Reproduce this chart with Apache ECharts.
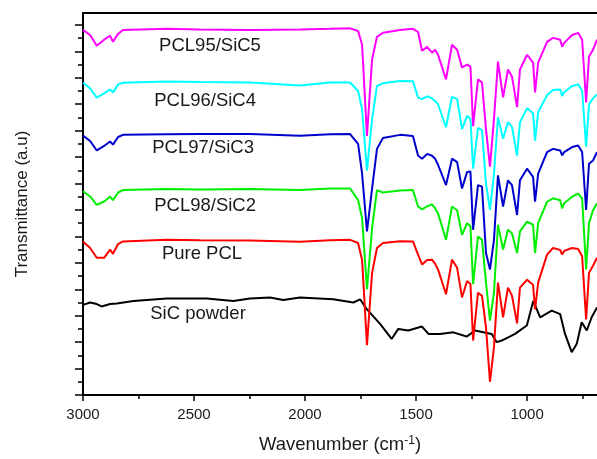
<!DOCTYPE html>
<html>
<head>
<meta charset="utf-8">
<script src="https://cdn.jsdelivr.net/npm/echarts@6/dist/echarts.min.js"></script>
<style>
  html, body { margin: 0; padding: 0; background: #fff; }
  #chart { width: 597px; height: 459px; }
</style>
</head>
<body>
<div id="chart"></div>
<script>
// wavenumbers (cm-1) read for the PCL based spectra
const wnPCL = [3000, 2968, 2938, 2905, 2878, 2865, 2842, 2820, 2623, 2473, 2248, 2023, 1887, 1797, 1761, 1743,
  1721, 1698, 1676, 1649, 1572, 1514, 1491, 1473, 1450, 1428, 1414, 1401, 1365, 1338, 1315, 1293, 1270, 1255,
  1243, 1221, 1203, 1185, 1167, 1149, 1131, 1108, 1086, 1068, 1045, 1032, 1000, 973, 964, 950, 910, 883, 851,
  842, 833, 797, 770, 752, 734, 721, 703, 685];

const pcl95 = [138.1, 136.2, 132.1, 134.4, 135.9, 133.6, 136.6, 138.1, 138.5, 138.3, 138.1, 138.3, 138.5, 138.7, 137.7, 132.5,
  98.0, 126.9, 135.5, 137.0, 138.1, 138.5, 137.4, 130.2, 131.7, 129.5, 130.6, 128.7, 119.4, 132.5, 130.6, 123.9, 125.0, 124.2,
  101.7, 119.4, 118.2, 100.6, 86.4, 104.4, 126.1, 112.6, 123.1, 120.5, 108.9, 123.1, 128.7, 125.7, 114.5, 125.7, 133.6, 135.1, 134.4,
  131.7, 133.2, 136.2, 137.0, 134.4, 110.7, 128.0, 130.6, 134.4];

const pcl96 = [118.1, 116.0, 112.5, 114.1, 115.6, 114.4, 117.5, 118.1, 118.6, 118.4, 118.2, 117.1, 118.2, 118.2, 115.0, 108.1,
  84.9, 104.4, 116.9, 117.9, 118.8, 118.7, 112.5, 111.9, 113.0, 112.2, 111.2, 110.0, 101.3, 112.8, 111.9, 100.6, 105.6, 104.4,
  85.6, 101.0, 100.2, 80.0, 70.0, 83.7, 105.0, 96.9, 103.2, 101.4, 90.6, 103.1, 108.5, 106.6, 96.2, 107.0, 113.4, 115.4, 115.6,
  113.1, 114.5, 116.9, 117.5, 115.2, 93.9, 110.0, 112.2, 113.7];

const pcl97 = [98.1, 96.1, 92.5, 94.2, 95.9, 94.7, 97.6, 98.4, 98.6, 98.7, 98.7, 98.1, 98.6, 98.7, 95.0, 83.7,
  61.9, 78.1, 93.1, 97.2, 98.4, 98.0, 90.6, 89.4, 91.2, 90.5, 89.4, 87.1, 79.4, 89.4, 88.1, 78.1, 84.4, 84.5,
  62.5, 79.4, 78.8, 53.7, 47.5, 58.7, 83.1, 71.3, 81.2, 79.4, 68.1, 81.2, 85.6, 82.5, 73.1, 83.7, 91.9, 93.1, 92.5,
  90.6, 91.9, 93.8, 94.4, 91.9, 70.0, 87.5, 88.7, 91.9];

const pcl98 = [77.1, 75.1, 71.9, 73.2, 75.0, 73.7, 76.6, 77.5, 77.9, 77.7, 77.9, 77.5, 78.1, 78.1, 73.7, 66.9,
  40.0, 63.1, 77.5, 76.6, 77.4, 77.5, 71.3, 70.2, 71.4, 72.1, 70.6, 68.7, 58.7, 71.3, 69.9, 60.6, 65.0, 63.8,
  41.9, 60.0, 58.7, 42.5, 28.1, 38.7, 64.4, 55.0, 62.5, 61.2, 53.7, 61.9, 65.6, 64.4, 53.7, 65.0, 73.1, 74.4, 73.7,
  70.6, 72.5, 75.0, 76.2, 74.4, 47.5, 65.0, 69.9, 72.5];

const purePCL = [58.1, 55.6, 51.9, 51.9, 55.0, 53.4, 57.1, 58.1, 58.7, 58.5, 58.4, 58.0, 58.5, 58.7, 57.5, 51.1,
  18.8, 46.2, 55.6, 57.5, 58.2, 58.1, 53.1, 49.4, 51.1, 51.2, 49.6, 47.5, 38.1, 51.2, 48.1, 36.9, 43.1, 42.0,
  20.6, 38.7, 37.5, 25.6, 5.0, 18.1, 42.5, 29.4, 40.6, 37.6, 27.1, 40.6, 43.6, 41.7, 32.4, 42.5, 53.1, 55.6, 54.9,
  53.1, 54.5, 55.6, 55.2, 52.5, 28.6, 46.2, 48.9, 51.9];

// SiC powder spectrum
const wnSiC = [3000, 2968, 2938, 2916, 2878, 2848, 2773, 2623, 2443, 2323, 2248, 2158, 2098, 2023, 1873, 1782, 1752,
  1722, 1662, 1610, 1580, 1535, 1474, 1444, 1392, 1332, 1272, 1234, 1159, 1137, 1114, 1054, 1001, 972, 941, 889,
  851, 829, 799, 776, 754, 731, 709, 685];
const sicPowder = [34.1, 35.0, 34.4, 33.5, 34.4, 34.6, 35.6, 36.5, 36.5, 35.6, 36.5, 36.9, 35.9, 36.9, 36.2, 35.0, 36.2,
  32.5, 26.9, 21.2, 25.0, 24.4, 25.9, 23.1, 23.1, 23.7, 22.1, 24.4, 23.1, 20.0, 20.6, 23.1, 26.3, 35.6, 29.4, 31.9,
  30.6, 23.1, 16.2, 19.4, 27.5, 24.4, 29.4, 33.1];

const names = ['PCL95/SiC5', 'PCL96/SiC4', 'PCL97/SiC3', 'PCL98/SiC2', 'Pure PCL', 'SiC powder'];
const colors = ['#ff00ff', '#00ffff', '#0000cc', '#00ee00', '#ff0000', '#000000'];
// where each curve's name sits (wavenumber, a.u.)
const labelPos = [[2428, 132.2], [2450, 111.2], [2459, 93.5], [2450, 71.6], [2464, 53.4], [2482, 30.6]];

const xMajorTicks = [1000, 1500, 2000, 2500, 3000];
const xMinorTicks = [750, 1250, 1750, 2250, 2750];
const yMajorTicks = [0, 10, 20, 30, 40, 50, 60, 70, 80, 90, 100, 110, 120, 130, 140];
const yMinorTicks = [5, 15, 25, 35, 45, 55, 65, 75, 85, 95, 105, 115, 125, 135];

const spectra = [
  [wnPCL, pcl95], [wnPCL, pcl96], [wnPCL, pcl97], [wnPCL, pcl98], [wnPCL, purePCL], [wnSiC, sicPowder]
];

const font = 'Liberation Sans, Arial, sans-serif';
const chart = echarts.init(document.getElementById('chart'));

const series = spectra.map(([xs, ys], i) => ({
  name: names[i],
  type: 'line',
  data: xs.map((w, k) => [w, ys[k]]),
  showSymbol: false,
  symbol: 'none',
  lineStyle: { color: colors[i], width: 2 },
  itemStyle: { color: colors[i] },
  z: 10 - i,
  markPoint: {
    symbol: 'circle',
    symbolSize: 0,
    silent: true,
    label: {
      show: true,
      position: 'inside',
      formatter: names[i],
      color: '#1a1a1a',
      fontSize: 18.5,
      fontFamily: font
    },
    data: [{ coord: labelPos[i] }]
  }
}));

const xBase = {
  type: 'value',
  inverse: true,
  min: 685,
  max: 3000,
  splitLine: { show: false }
};

chart.setOption({
  animation: false,
  backgroundColor: '#fff',
  grid: { left: 83, top: 13, bottom: 61, right: 0 },
  xAxis: [Object.assign({}, xBase, {
    name: 'Wavenumber (cm{sup|-1})',
    nameLocation: 'middle',
    nameGap: 40,
    nameTextStyle: {
      color: '#1a1a1a', fontSize: 18.5, fontFamily: font,
      rich: { sup: { fontSize: 12, verticalAlign: 'top', lineHeight: 12, color: '#1a1a1a', fontFamily: font } }
    },
    axisLine: { show: true, onZero: false, lineStyle: { color: '#000', width: 2 } },
    axisTick: { show: true, length: 6, customValues: xMajorTicks, lineStyle: { color: '#000', width: 1.5 } },
    axisLabel: {
      color: '#1a1a1a', fontSize: 15, margin: 12, fontFamily: font,
      customValues: xMajorTicks, formatter: v => String(v)
    }
  }), Object.assign({}, xBase, {
    position: 'bottom',
    axisLine: { show: false, onZero: false },
    axisTick: { show: true, length: 4, customValues: xMinorTicks, lineStyle: { color: '#000', width: 1.5 } },
    axisLabel: { show: false }
  }), Object.assign({}, xBase, {
    position: 'top',
    axisLine: { show: true, onZero: false, lineStyle: { color: '#000', width: 2 } },
    axisTick: { show: false },
    axisLabel: { show: false }
  })],
  yAxis: [{
    type: 'value',
    min: 0,
    max: 144.5,
    name: 'Transmittance (a.u)',
    nameLocation: 'middle',
    nameGap: 52,
    nameTextStyle: { color: '#1a1a1a', fontSize: 17, fontFamily: font },
    axisLine: { show: true, onZero: false, lineStyle: { color: '#000', width: 2 } },
    axisTick: { show: true, length: 8, customValues: yMajorTicks, lineStyle: { color: '#000', width: 1.5 } },
    axisLabel: { show: false },
    splitLine: { show: false }
  }, {
    type: 'value',
    position: 'left',
    min: 0,
    max: 144.5,
    axisLine: { show: false, onZero: false },
    axisTick: { show: true, length: 5, customValues: yMinorTicks, lineStyle: { color: '#000', width: 1.5 } },
    axisLabel: { show: false },
    splitLine: { show: false }
  }],
  series: series
});
</script>
</body>
</html>
